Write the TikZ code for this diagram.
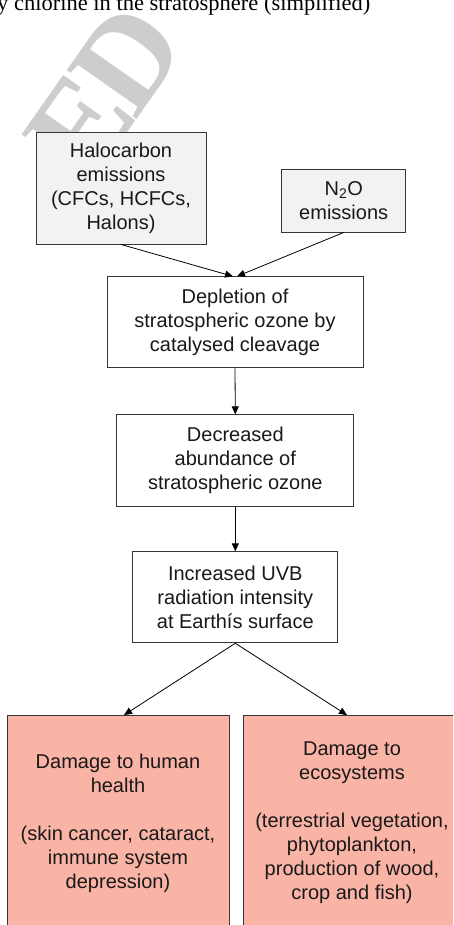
\documentclass[tikz,border=0pt]{standalone}
\usepackage{fontspec}
\setmainfont{Liberation Serif}
\setsansfont{Liberation Sans}
\usetikzlibrary{arrows.meta}
\definecolor{boxgrey}{RGB}{242,242,242}
\definecolor{salmon}{RGB}{250,180,166}
\definecolor{wmgrey}{RGB}{205,205,205}
\definecolor{edgegrey}{RGB}{55,55,55}
\begin{document}
\begin{tikzpicture}[x=1pt,y=-1pt,
  box/.style={draw=edgegrey, line width=0.9pt, align=center, inner sep=0pt,
    font=\sffamily\fontsize{20}{24}\selectfont, text=black!90},
  link/.style={-{Triangle[length=8pt,width=7pt]}, line width=0.8pt}]
\useasboundingbox (0,0) rectangle (453,925);
\clip (0,0) rectangle (453,925);

% watermark, cut off along the top of the figure area
\begin{scope}
  \clip (0,10.5) rectangle (453,925);
  \node[rotate=55, anchor=base east, inner sep=0pt, text=wmgrey,
        font=\bfseries\fontsize{130}{130}\selectfont] (wm) at (189.5,44.1) {E\kern-8pt D};
\end{scope}

% caption line
\node[anchor=base west, font=\fontsize{22.5}{26}\selectfont, inner sep=0pt] (caption) at (-3,11)
  {y chlorine in the stratosphere (simplified)};

% sources
\node[box, fill=boxgrey, minimum width=170pt, minimum height=112pt] (halo) at (121,188)
  {Halocarbon\\emissions\\(CFCs, HCFCs,\\Halons)};
\node[box, fill=boxgrey, minimum width=124pt, minimum height=63pt] (n2o) at (343.7,200.5)
  {N\textsubscript{2}O\\emissions};

% causal chain
\node[box, fill=white, minimum width=256pt, minimum height=91pt] (dep) at (235,322.3)
  {Depletion of\\stratospheric ozone by\\catalysed cleavage};
\node[box, fill=white, minimum width=237pt, minimum height=92pt] (dec) at (235.3,460.8)
  {Decreased\\abundance of\\stratospheric ozone};
\node[box, fill=white, minimum width=205pt, minimum height=91pt] (inc) at (235.3,597.3)
  {Increased UVB\\radiation intensity\\at Earthís surface};

% effects
\node[box, fill=salmon, minimum width=222pt, minimum height=215pt] (hum) at (118,823)
  {Damage to human\\health\\[24pt](skin cancer, cataract,\\immune system\\depression)};
\node[box, fill=salmon, minimum width=218pt, minimum height=215pt] (eco) at (352,823)
  {Damage to\\ecosystems\\[24pt](terrestrial vegetation,\\phytoplankton,\\production of wood,\\crop and fish)};

% connectors
\draw[link] (halo.south) -- ([xshift=-2pt]dep.north);
\draw[link] (n2o.south) -- ([xshift=2pt]dep.north);
\draw[link] (dep.south) -- (dec.north);
\draw[link] (dec.south) -- (inc.north);
\draw[link] (inc.south) -- ([xshift=6pt]hum.north);
\draw[link] (inc.south) -- ([xshift=-5pt]eco.north);
\end{tikzpicture}
\end{document}
